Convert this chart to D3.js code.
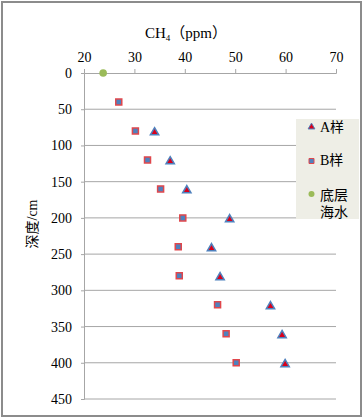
<!DOCTYPE html>
<html><head><meta charset="utf-8">
<script src="https://cdn.jsdelivr.net/npm/d3@7"></script>
<style>body{margin:0;background:#fff}</style></head>
<body><svg id="c" width="364" height="420"></svg>
<script>
const depthsA = [80,120,160,200,240,280,320,360,400];
const valuesA = [34.0,37.1,40.4,48.9,45.3,47.0,57.0,59.3,59.9];
const depthsB = [40,80,120,160,200,240,280,320,360,400];
const valuesB = [26.9,30.2,32.6,35.2,39.6,38.7,38.9,46.5,48.2,50.2];
const depthsSea = [0];
const valuesSea = [23.8];
const xTicks = [20,30,40,50,60,70];
const yTicks = [0,50,100,150,200,250,300,350,400,450];
const legendLabels = [["A样"],["B样"],["底层","海水"]];

const svg = d3.select("#c");
const serif = "'Liberation Serif','Times New Roman',serif";
const cjk = "'Liberation Serif','Noto Sans CJK SC',serif";
svg.append("rect").attr("x",2).attr("y",2).attr("width",359).attr("height",414)
  .attr("fill","#fff").attr("stroke","#8c8c8c").attr("stroke-width",2);

const x = d3.scaleLinear().domain([20,70]).range([84,336]);
const y = d3.scaleLinear().domain([0,450]).range([73,399]);

// gridlines
svg.append("g").selectAll("line").data(yTicks.slice(1)).join("line")
  .attr("x1",x(20)).attr("x2",x(70)).attr("y1",d=>y(d)).attr("y2",d=>y(d))
  .attr("stroke","#a6a6a6").attr("stroke-width",1);

// top axis
const gx = svg.append("g").attr("transform",`translate(0,${y(0)})`)
  .call(d3.axisTop(x).tickValues(xTicks).tickSize(4).tickPadding(7));
gx.attr("font-family",null).attr("font-size",null);
gx.select(".domain").attr("stroke","#a6a6a6");
gx.selectAll(".tick line").attr("stroke","#a6a6a6");
gx.selectAll("text").style("font-family",serif).style("font-size","14px").attr("fill","#000");

const gy = svg.append("g").attr("transform",`translate(${x(20)},0)`)
  .call(d3.axisLeft(y).tickValues(yTicks).tickSize(3).tickPadding(9));
gy.attr("font-family",null).attr("font-size",null);
gy.select(".domain").attr("stroke","#a6a6a6");
gy.selectAll(".tick line").attr("stroke","#a6a6a6");
gy.selectAll("text").style("font-family",serif).style("font-size","14px").attr("fill","#000");

// titles
const t = svg.append("text").attr("x",186).attr("y",38).attr("text-anchor","middle")
  .style("font-family",cjk).style("font-size","15px").attr("fill","#000");
t.append("tspan").text("CH");
t.append("tspan").text("4").style("font-size","9px").attr("dy",3);
t.append("tspan").text("（ppm）").attr("dy",-3);
svg.append("text").attr("transform","translate(37,224) rotate(-90)").attr("text-anchor","middle")
  .style("font-family",cjk).style("font-size","14px").attr("fill","#000").text("深度/cm");

// marks
const tri = d3.symbol().type(d3.symbolTriangle).size(30);
svg.append("g").selectAll("path").data(depthsB).join("path")
  .attr("transform",(d,i)=>`translate(${x(valuesB[i])},${y(d)})`)
  .attr("d","M-3,-3H3V3H-3Z").attr("fill","#4f81bd").attr("stroke","#e0474c").attr("stroke-width",1.5);
svg.append("g").selectAll("path").data(depthsA).join("path")
  .attr("transform",(d,i)=>`translate(${x(valuesA[i])},${y(d)+1.5})`)
  .attr("d",tri).attr("fill","#d9001b").attr("stroke","#4f81bd").attr("stroke-width",1.5);
svg.append("g").selectAll("circle").data(depthsSea).join("circle")
  .attr("cx",(d,i)=>x(valuesSea[i])).attr("cy",d=>y(d)).attr("r",3.8).attr("fill","#9bbb59");

// legend
const lg = svg.append("g");
lg.append("rect").attr("x",296).attr("y",119).attr("width",63).attr("height",100).attr("fill","#eeeee6");
const ly = [127,161,194];
const lb = [[132],[165],[200,217]];
lg.append("path").attr("transform",`translate(311.5,${ly[0]})`).attr("d",d3.symbol().type(d3.symbolTriangle).size(20)).attr("fill","#d9001b").attr("stroke","#4f81bd").attr("stroke-width",1);
lg.append("path").attr("transform",`translate(311.5,${ly[1]})`).attr("d","M-2.5,-2.5H2.5V2.5H-2.5Z").attr("fill","#4f81bd").attr("stroke","#e0474c").attr("stroke-width",1);
lg.append("circle").attr("cx",311.5).attr("cy",ly[2]).attr("r",3).attr("fill","#9bbb59");
legendLabels.forEach((lines,i)=>{
  lines.forEach((s,j)=>{
    lg.append("text").attr("x",320).attr("y",lb[i][j])
      .style("font-family",cjk).style("font-size","14px").attr("fill","#000").text(s);
  });
});
</script></body></html>
